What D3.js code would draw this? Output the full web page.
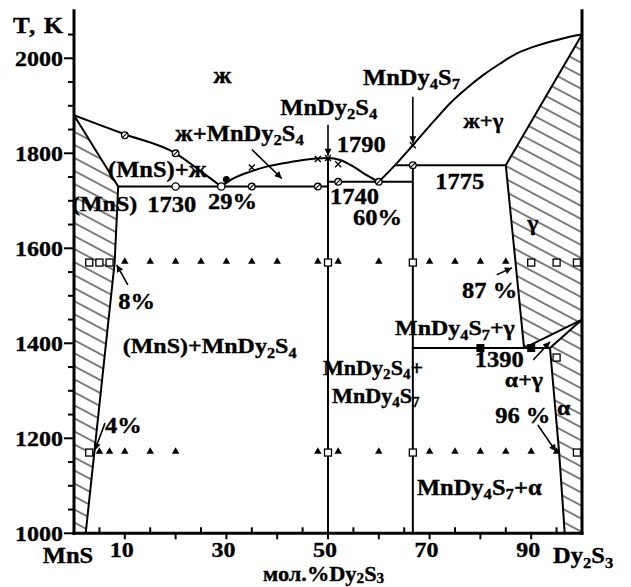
<!DOCTYPE html>
<html>
<head>
<meta charset="utf-8">
<script src="https://cdn.jsdelivr.net/npm/d3@7"></script>
<style>
  body { margin: 0; background: #fff; }
  svg { display: block; }
  text { font-family: "Liberation Serif", "Times New Roman", serif; font-weight: bold; fill: #000; stroke: #000; stroke-width: 0.35px; }
</style>
</head>
<body>
<svg id="chart" width="631" height="587"></svg>
<script>
// MnS – Dy2S3 phase diagram. Composition in mol.% Dy2S3, temperature in K.

const xTickValues = d3.range(0, 101, 5);
const xTickLabels = [10, 30, 50, 70, 90];
const yTickValues = d3.range(1000, 2051, 50);
const yTickLabels = [1000, 1200, 1400, 1600, 1800, 2000];

// liquidus branches
const liquidusMnS    = [[0, 1880], [10, 1840], [20, 1800], [25, 1762], [29, 1730]];
const liquidusMnDy2S4 = [[29, 1730], [31.4, 1747], [34.6, 1761], [37.9, 1772], [41.2, 1779],
                         [44.5, 1785], [47.8, 1789], [50, 1790], [52.4, 1786], [55, 1772],
                         [57.6, 1754], [60, 1740]];
const liquidusDy2S3  = [[60, 1740], [63.2, 1775], [66.7, 1817], [70.7, 1866], [74, 1905],
                        [77.3, 1937], [80.6, 1965], [83.9, 1989], [87.1, 2010], [90.4, 2024],
                        [93.7, 2035], [97, 2044], [100, 2050]];

// solid solution boundaries
const solidusMnS  = [[0, 1880], [8.7, 1730]];
const solvusMnS   = [[8.7, 1730], [8.4, 1660], [8, 1570], [4, 1170], [2.3, 1000]];
const gammaBound  = [[100, 2050], [85, 1775], [88.6, 1390]];
const gammaLower  = [[88.6, 1390], [100, 1450]];
const alphaUpper  = [[93.7, 1390], [100, 1450]];
const alphaSolvus = [[93.7, 1390], [95.5, 1170], [96.6, 1000]];

// invariant lines and compounds
const eutectic1730   = [[8.7, 1730], [50, 1730]];
const eutectic1740   = [[50, 1740], [66.7, 1740]];
const peritectic1775 = [[63.2, 1775], [85, 1775]];
const eutectoid1390  = [[66.7, 1390], [93.7, 1390]];
const compoundMnDy2S4 = [[50, 1790], [50, 1000]];
const compoundMnDy4S7 = [[66.7, 1775], [66.7, 1000]];

// hatched single-phase fields
const fieldMnS   = [[0, 1880], [8.7, 1730], [8.4, 1660], [8, 1570], [4, 1170], [2.3, 1000], [0, 1000]];
const fieldGamma = [[100, 2050], [85, 1775], [88.6, 1390], [100, 1450]];
const fieldAlpha = [[100, 1450], [93.7, 1390], [95.5, 1170], [96.6, 1000], [100, 1000]];

// annealed samples (XRD): two-phase ▲, single-phase □
const twoPhase1570 = [10, 15, 20, 25, 30, 35, 40, 48, 52, 60, 70, 75, 80, 85];
const onePhase1570 = [3, 5, 7, 50, 66.7, 90, 95, 99];
const twoPhase1170 = [5, 7, 10, 15, 20, 48, 52, 60, 70, 75, 80, 85, 90, 95];
const onePhase1170 = [3, 50, 66.7, 99];

// thermal analysis points
const dtaSlashed  = [[10, 1838], [20, 1800], [35, 1730], [48, 1730], [52, 1740], [60, 1740], [66.7, 1775]];
const dtaOpen     = [[20, 1730], [29, 1730]];
const dtaFilled   = [[30, 1745]];
const dtaCross    = [[35, 1770], [48, 1788], [50, 1790], [52, 1777], [66.7, 1817]];
const filledSquares = [[80, 1390], [90, 1390]];
const openSquares   = [[95, 1370]];

const svg = d3.select("#chart");
const x = d3.scaleLinear().domain([0, 100]).range([74, 582]);
const y = d3.scaleLinear().domain([1000, 2100]).range([533.3, 10.8]);

const defs = svg.append("defs");
defs.append("pattern")
  .attr("id", "hatch").attr("patternUnits", "userSpaceOnUse")
  .attr("width", 11.5).attr("height", 11.5)
  .attr("patternTransform", "rotate(28)")
  .append("line").attr("x1", 0).attr("y1", 1).attr("x2", 11.5).attr("y2", 1)
  .attr("stroke", "#000").attr("stroke-width", 1);
defs.append("marker")
  .attr("id", "arrow").attr("viewBox", "0 0 10 10")
  .attr("refX", 10).attr("refY", 5)
  .attr("markerUnits", "userSpaceOnUse")
  .attr("markerWidth", 10).attr("markerHeight", 7)
  .attr("orient", "auto")
  .append("path").attr("d", "M0,0 L10,5 L0,10 Z").attr("fill", "#000");

const straight = d3.line().x(d => x(d[0])).y(d => y(d[1]));
const smooth = d3.line().x(d => x(d[0])).y(d => y(d[1])).curve(d3.curveMonotoneX);

// hatched fields
[fieldMnS, fieldGamma, fieldAlpha].forEach(f => {
  svg.append("path").attr("d", straight(f) + "Z").attr("fill", "url(#hatch)").attr("stroke", "none");
});

// phase boundaries
const lines = svg.append("g").attr("fill", "none").attr("stroke", "#000").attr("stroke-width", 2);
[liquidusMnS, liquidusMnDy2S4, liquidusDy2S3].forEach(c => lines.append("path").attr("d", smooth(c)));
[solidusMnS, solvusMnS, gammaBound, gammaLower, alphaUpper, alphaSolvus,
 eutectic1730, eutectic1740, peritectic1775, eutectoid1390, compoundMnDy2S4, compoundMnDy4S7]
  .forEach(c => lines.append("path").attr("d", straight(c)));

// axes
const axes = svg.append("g").attr("stroke", "#000").attr("stroke-width", 3).attr("stroke-linecap", "square");
axes.append("line").attr("x1", x(0)).attr("y1", y(1000)).attr("x2", x(0)).attr("y2", y(2100));
axes.append("line").attr("x1", x(100)).attr("y1", y(1000)).attr("x2", x(100)).attr("y2", y(2100));
axes.append("line").attr("x1", x(0)).attr("y1", y(1000)).attr("x2", x(100)).attr("y2", y(1000));

const ticks = svg.append("g").attr("stroke", "#000").attr("stroke-width", 2);
yTickValues.forEach(v => {
  const major = yTickLabels.includes(v);
  ticks.append("line").attr("x1", x(0) - (major ? 10 : 6)).attr("x2", x(0)).attr("y1", y(v)).attr("y2", y(v));
});
xTickValues.forEach(v => {
  if (v === 0 || v === 100) return;
  const major = v % 10 === 0;
  ticks.append("line").attr("x1", x(v)).attr("x2", x(v))
    .attr("y1", y(1000)).attr("y2", major ? y(1000) + 6 : y(1000) - 6);
});

// text with "_n" subscripts, slightly widened
const SX = 1.09;
function label(str, px, py, size, anchor, subShift) {
  const shift = size * (subShift || 0.2);
  const t = svg.append("text")
    .attr("transform", `translate(${px},${py}) scale(${SX},1)`)
    .attr("text-anchor", anchor || "start")
    .style("font-size", size + "px");
  let sub = false;
  str.split(/(_.)/).filter(s => s).forEach(p => {
    if (p[0] === "_") {
      t.append("tspan").text(p[1]).style("font-size", (size * 0.68) + "px").attr("dy", sub ? 0 : shift);
      sub = true;
    } else {
      const ts = t.append("tspan").text(p);
      if (sub) { ts.attr("dy", -shift); sub = false; }
    }
  });
  return t;
}

yTickLabels.forEach(v => label(String(v), x(0) - 11, y(v) + 8, 22, "end"));
xTickLabels.forEach(v => label(String(v), x(v) - 3, y(1000) + 24, 22, "middle"));
label("MnS", x(0) - 6, y(1000) + 30, 22.5, "middle");
label("Dy_2S_3", x(100) - 29, y(1000) + 30, 22.5);
label("мол.%Dy_2S_3", x(37.2), y(1000) + 47.5, 20.5, "start", 0.12);
label("T, K", 13, 33, 23).attr("letter-spacing", 1);

// field and point annotations: [text, mol.%, K, size]
const annotations = [
  ["ж", 27.4, 1948, 23],
  ["ж+MnDy_2S_4", 19.9, 1826, 22.5],
  ["MnDy_2S_4", 40.6, 1881, 22.5],
  ["1790", 51.7, 1803, 22.5],
  ["MnDy_4S_7", 56.9, 1944, 22.5],
  ["ж+γ", 76.6, 1854, 21],
  ["1775", 71.1, 1725, 22.5],
  ["(MnS)+ж", 6.7, 1750, 22.5],
  ["(MnS)", -0.4, 1678, 22],
  ["1730", 14.4, 1676, 22.5],
  ["29%", 26.4, 1683, 22.5],
  ["1740", 50.4, 1693, 22.5],
  ["60%", 54.9, 1649, 22.5],
  ["8%", 8.7, 1472, 22.5],
  ["(MnS)+MnDy_2S_4", 9.6, 1379, 22],
  ["4%", 6.1, 1211, 22.5],
  ["MnDy_2S_4+", 49, 1333, 20.3],
  ["MnDy_4S_7", 50.8, 1274, 20.3],
  ["γ", 89.2, 1639, 22],
  ["87 %", 76.4, 1495, 22.5],
  ["MnDy_4S_7+γ", 63.2, 1417, 22],
  ["1390", 78.9, 1351, 22.5],
  ["α+γ", 84.8, 1309, 22],
  ["96 %", 82.9, 1232, 22.5],
  ["α", 95.1, 1249, 22],
  ["MnDy_4S_7+α", 67.5, 1081, 22.5]
];
annotations.forEach(a => label(a[0], x(a[1]), y(a[2]), a[3]));

// arrows: [from mol.%, from K, to mol.%, to K]
const arrows = [
  [35, 1808, 40.9, 1747],
  [50, 1860, 50, 1795],
  [66.7, 1919, 66.7, 1821],
  [10.6, 1523, 8.4, 1565],
  [6.1, 1232, 4.1, 1175],
  [83.2, 1544, 86.2, 1559],
  [90.4, 1365, 93.7, 1403],
  [91.3, 1228, 94.9, 1172]
];
svg.append("g").selectAll("line").data(arrows).join("line")
  .attr("x1", d => x(d[0])).attr("y1", d => y(d[1]))
  .attr("x2", d => x(d[2])).attr("y2", d => y(d[3]))
  .attr("stroke", "#000").attr("stroke-width", 1.6)
  .attr("marker-end", "url(#arrow)");

// sample markers
const marks = svg.append("g");
const tri = d3.symbol(d3.symbolTriangle, 24);
function triangles(xs, t) {
  xs.forEach(v => marks.append("path").attr("d", tri())
    .attr("transform", `translate(${x(v)},${y(t) - 1})`).attr("fill", "#000"));
}
function squares(xs, t) {
  xs.forEach(v => marks.append("rect")
    .attr("x", x(v) - 3.5).attr("y", y(t) - 3.5).attr("width", 7).attr("height", 7)
    .attr("fill", "#fff").attr("stroke", "#000").attr("stroke-width", 1.3));
}
triangles(twoPhase1570, 1570);
squares(onePhase1570, 1570);
triangles(twoPhase1170, 1170);
squares(onePhase1170, 1170);

dtaSlashed.forEach(d => {
  const cx = x(d[0]), cy = y(d[1]);
  marks.append("circle").attr("cx", cx).attr("cy", cy).attr("r", 3.3)
    .attr("fill", "#fff").attr("stroke", "#000").attr("stroke-width", 1.3);
  marks.append("line").attr("x1", cx - 2.6).attr("y1", cy + 2.6).attr("x2", cx + 2.6).attr("y2", cy - 2.6)
    .attr("stroke", "#000").attr("stroke-width", 1.2);
});
dtaOpen.forEach(d => marks.append("circle").attr("cx", x(d[0])).attr("cy", y(d[1])).attr("r", 3.6)
  .attr("fill", "#fff").attr("stroke", "#000").attr("stroke-width", 1.3));
dtaFilled.forEach(d => marks.append("circle").attr("cx", x(d[0])).attr("cy", y(d[1])).attr("r", 3.5)
  .attr("fill", "#000"));
dtaCross.forEach(d => {
  const cx = x(d[0]), cy = y(d[1]);
  marks.append("path").attr("d", `M${cx - 3},${cy - 3}L${cx + 3},${cy + 3}M${cx - 3},${cy + 3}L${cx + 3},${cy - 3}`)
    .attr("stroke", "#000").attr("stroke-width", 1.4);
});
filledSquares.forEach(d => marks.append("rect")
  .attr("x", x(d[0]) - 4).attr("y", y(d[1]) - 4).attr("width", 8).attr("height", 8).attr("fill", "#000"));
squares(openSquares.map(d => d[0]), openSquares[0][1]);
</script>
</body>
</html>
